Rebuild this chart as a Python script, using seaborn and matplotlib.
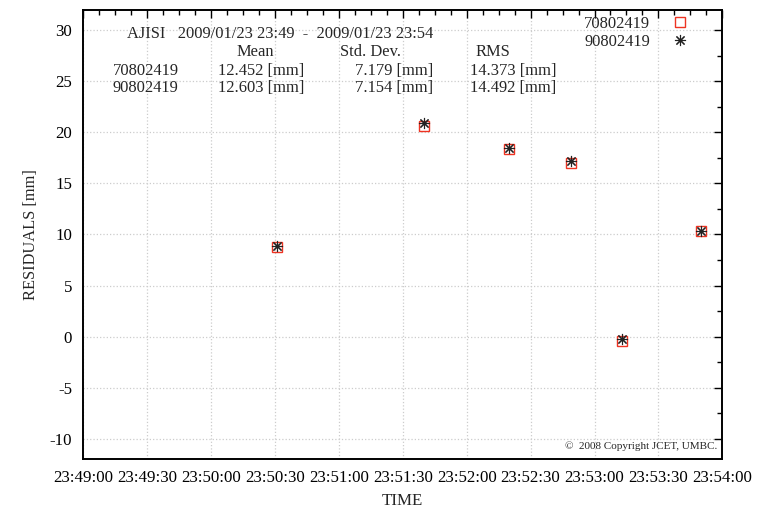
import matplotlib
matplotlib.use('Agg')
import matplotlib.pyplot as plt
import matplotlib.dates as mdates
from matplotlib.ticker import MultipleLocator
import seaborn as sns
import pandas as pd

# observation epochs (2009/01/23)
times = ['23:50:31', '23:51:40', '23:52:20', '23:52:49', '23:53:13', '23:53:50']
res_708 = [8.8, 20.6, 18.4, 17.0, -0.4, 10.3]
res_908 = [8.9, 20.9, 18.5, 17.2, -0.2, 10.3]
series_names = ['70802419', '90802419']
means = ['12.452 [mm]', '12.603 [mm]']
stds = ['7.179 [mm]', '7.154 [mm]']
rmss = ['14.373 [mm]', '14.492 [mm]']

t = pd.to_datetime(['2009-01-23 ' + s for s in times])
t0 = pd.Timestamp('2009-01-23 23:49:00')
t1 = pd.Timestamp('2009-01-23 23:54:00')

sns.set_style('white')
plt.rcParams['font.family'] = ['Liberation Serif', 'DejaVu Serif']
plt.rcParams['axes.unicode_minus'] = False

fig = plt.figure(figsize=(7.57, 5.09), dpi=100)
ax = fig.add_axes([0.110, 0.0982, 0.8442, 0.8822])

red = '#ee3322'
sns.lineplot(x=t, y=res_708, ax=ax, marker='s', linestyle='none', markersize=7.5,
             markerfacecolor='none', markeredgecolor=red, markeredgewidth=1.0,
             color=red, label=series_names[0], errorbar=None)
sns.lineplot(x=t, y=res_908, ax=ax, marker=(8, 2, 0), linestyle='none', markersize=8,
             markeredgecolor='#222222', markeredgewidth=0.8,
             color='#222222', label=series_names[1], errorbar=None)

ax.set_xlim(t0, t1)
ax.set_ylim(-12, 32)
ax.xaxis.set_major_locator(mdates.SecondLocator(bysecond=[0, 30]))
ax.xaxis.set_minor_locator(MultipleLocator(7.5 / 86400))
ax.xaxis.set_major_formatter(mdates.DateFormatter('%H:%M:%S'))
ax.yaxis.set_major_locator(MultipleLocator(5))
ax.yaxis.set_minor_locator(MultipleLocator(2.5))

ax.tick_params(which='both', direction='in', top=True, right=True, colors='black',
               labelsize=12.2)
ax.tick_params(which='major', length=6, width=1.0)
ax.tick_params(which='minor', length=3.5, width=1.0)
ax.tick_params(axis='x', pad=8)
ax.tick_params(axis='y', pad=8)

ax.grid(True, which='major', linestyle=':', color='#cccccc', linewidth=0.9)
for sp in ax.spines.values():
    sp.set_color('black')
    sp.set_linewidth(1.4)

ax.set_xlabel('TIME', fontsize=12.2)
ax.set_ylabel('RESIDUALS [mm]', fontsize=11.8)
ax.xaxis.set_label_coords(0.5, -0.075)
ax.yaxis.set_label_coords(-0.07, 0.5)

fs = 11.9
ax.text(0.068, 0.9465, 'AJISI   2009/01/23 23:49  -  2009/01/23 23:54',
        transform=ax.transAxes, fontsize=fs, va='center', ha='left')
ax.text(0.2405, 0.907, 'Mean', transform=ax.transAxes, fontsize=fs, va='center')
ax.text(0.4017, 0.907, 'Std. Dev.', transform=ax.transAxes, fontsize=fs, va='center')
ax.text(0.6145, 0.907, 'RMS', transform=ax.transAxes, fontsize=fs, va='center')
for i, yy in enumerate([0.864, 0.826]):
    ax.text(0.0465, yy, series_names[i], transform=ax.transAxes, fontsize=fs, va='center')
    ax.text(0.2108, yy, means[i], transform=ax.transAxes, fontsize=fs, va='center')
    ax.text(0.5472, yy, stds[i], transform=ax.transAxes, fontsize=fs, va='center', ha='right')
    ax.text(0.605, yy, rmss[i], transform=ax.transAxes, fontsize=fs, va='center')

ax.text(0.9917, 0.029, '\u00a9  2008 Copyright JCET, UMBC.', transform=ax.transAxes,
        fontsize=8, ha='right', va='center')

ax.legend(loc='upper right', bbox_to_anchor=(0.959, 0.9866), markerfirst=False,
          frameon=False, fontsize=fs, borderaxespad=0, borderpad=0,
          labelspacing=0.1, handletextpad=0.8)

fig.savefig('out.png', dpi=100)
